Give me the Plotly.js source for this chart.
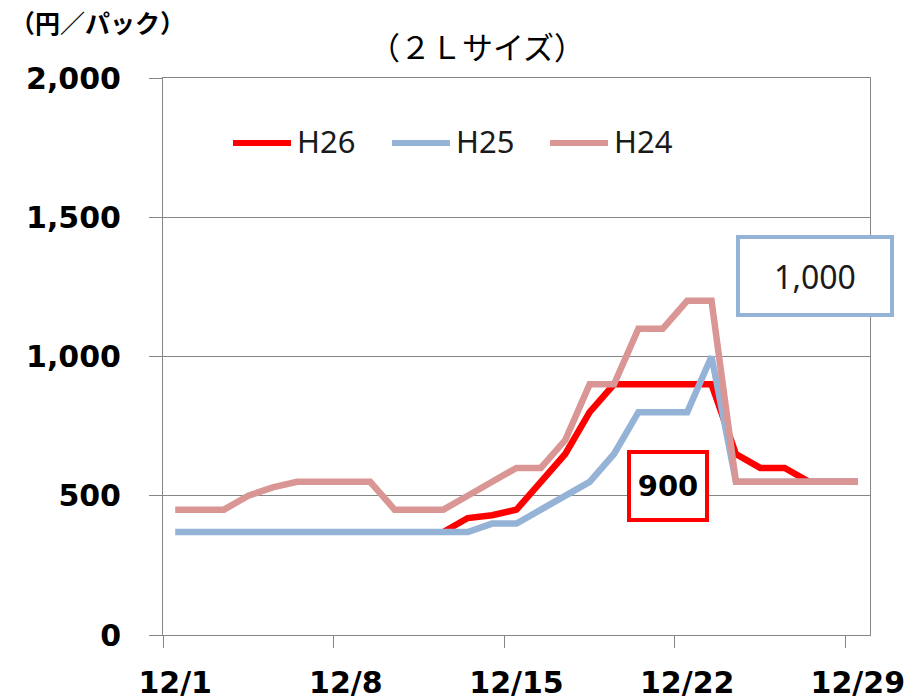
<!DOCTYPE html>
<html>
<head>
<meta charset="utf-8">
<script src="https://cdn.plot.ly/plotly-3.0.1.min.js"></script>
<style>html,body{margin:0;padding:0;background:#fff;}#chart{width:912px;height:699px;}</style>
</head>
<body>
<div id="chart"></div>
<script>
// ---- data ----
var days = [1,2,3,4,5,6,7,8,9,10,11,12,13,14,15,16,17,18,19,20,21,22,23,24,25,26,27,28,29];
var dayLabels = days.map(function(d){ return '12/' + d; });
var seriesNames = ['H26', 'H25', 'H24'];
var h26 = [null,null,null,null,null,null,null,null,null,null,null,370,420,430,450,550,650,800,900,900,900,900,900,650,600,600,550,550,550];
var h25 = [370,370,370,370,370,370,370,370,370,370,370,370,370,400,400,450,500,550,650,800,800,800,1000,550,550,550,550,550,550];
var h24 = [450,450,450,500,530,550,550,550,550,450,450,450,500,550,600,600,700,900,900,1100,1100,1200,1200,550,550,550,550,550,550];
var yTicks = [0,500,1000,1500,2000];
var callout26 = '900';
var callout25 = '1,000';

// ---- layout helpers (pixel -> paper) ----
var W = 912, H = 699;
var L = 163, R = 870, T = 78, B = 635;
function px(x){ return (x - L) / (R - L); }
function py(y){ return (B - y) / (B - T); }

var colors = ['#FF0000', '#95B3D7', '#D99694'];
var seriesData = [h26, h25, h24];

var traces = seriesData.map(function(vals, i){
  return {
    x: days, y: vals, name: seriesNames[i], type: 'scatter', mode: 'lines',
    line: {color: colors[i], width: 6.5, shape: 'linear'},
    connectgaps: false, hoverinfo: 'x+y+name', showlegend: false
  };
});

var majorIdx = days.filter(function(d, i){ return i % 7 === 0; });
var tickText = majorIdx.map(function(d){ return dayLabels[days.indexOf(d)]; });
var minorVals = majorIdx.map(function(d){ return d - 0.5; });

// custom legend (long line samples like the original)
var legendX = [233, 392, 550];
var shapes = [];
var annotations = [];
seriesNames.forEach(function(n, i){
  shapes.push({type:'line', xref:'paper', yref:'paper',
    x0: px(legendX[i]), x1: px(legendX[i] + 58), y0: py(143), y1: py(143),
    line: {color: colors[i], width: 6}});
  annotations.push({xref:'paper', yref:'paper', x: px(legendX[i] + 62), y: py(141),
    xanchor:'left', yanchor:'middle', showarrow:false, text: n,
    font:{family:'Noto Sans, DejaVu Sans, sans-serif', size:31, color:'#1a1a1a'}});
});

// unit label
annotations.push({xref:'paper', yref:'paper', x: px(8), y: py(22), xanchor:'left', yanchor:'middle',
  showarrow:false, text:'<b>（円／パック）</b>',
  font:{family:'Noto Sans CJK JP, sans-serif', size:25, color:'#000'}});

// callout boxes
annotations.push({xref:'paper', yref:'paper', x: px(668), y: py(486), xanchor:'center', yanchor:'middle',
  showarrow:false, text:'<b>' + callout26 + '</b>', width:74, height:64, borderpad:0,
  bordercolor:'#FF0000', borderwidth:4, bgcolor:'#fff',
  font:{family:'DejaVu Sans, sans-serif', size:29, color:'#000'}});
annotations.push({xref:'paper', yref:'paper', x: px(815), y: py(276), xanchor:'center', yanchor:'middle',
  showarrow:false, text: callout25, width:150, height:74, borderpad:0,
  bordercolor:'#95B3D7', borderwidth:4, bgcolor:'#fff',
  font:{family:'Noto Sans, DejaVu Sans, sans-serif', size:32, color:'#1a1a1a'}});

var layout = {
  width: W, height: H,
  margin: {l: L, r: W - R, t: T, b: H - B, pad: 0},
  paper_bgcolor: '#fff', plot_bgcolor: '#fff',
  title: {text: '（２Ｌサイズ）', xref:'container', yref:'container', x: 477 / W, y: 1 - 48 / H,
    xanchor:'center', yanchor:'middle',
    font: {family:'Noto Sans CJK JP, sans-serif', size: 31, color:'#000'}},
  xaxis: {
    range: [days[0] - 0.5, days[days.length - 1] + 0.5],
    tickmode: 'array', tickvals: majorIdx, ticktext: tickText, ticks: '',
    ticklabelstandoff: 21,
    minor: {tickmode:'array', tickvals: minorVals, ticks:'outside', ticklen: 12, tickwidth: 1, tickcolor:'#868686', showgrid:false},
    showgrid: false, zeroline: false, showline: true, linecolor:'#868686', linewidth: 1, mirror: true,
    tickfont: {family:'DejaVu Sans, sans-serif', size: 30, color:'#000', weight: 'bold'},
    fixedrange: true
  },
  yaxis: {
    range: [0, 2000], tickmode:'array', tickvals: yTicks,
    ticktext: yTicks.map(function(v){ return v.toLocaleString('en-US'); }),
    ticks:'outside', ticklen: 13, tickwidth: 1, tickcolor:'#868686',
    ticklabelstandoff: 22,
    showgrid: true, gridcolor:'#868686', gridwidth: 1, zeroline: false,
    showline: true, linecolor:'#868686', linewidth: 1, mirror: true,
    tickfont: {family:'DejaVu Sans, sans-serif', size: 30, color:'#000', weight: 'bold'},
    fixedrange: true
  },
  showlegend: false,
  shapes: shapes,
  annotations: annotations
};

Plotly.newPlot('chart', traces, layout, {displayModeBar: false, staticPlot: true});
</script>
</body>
</html>
